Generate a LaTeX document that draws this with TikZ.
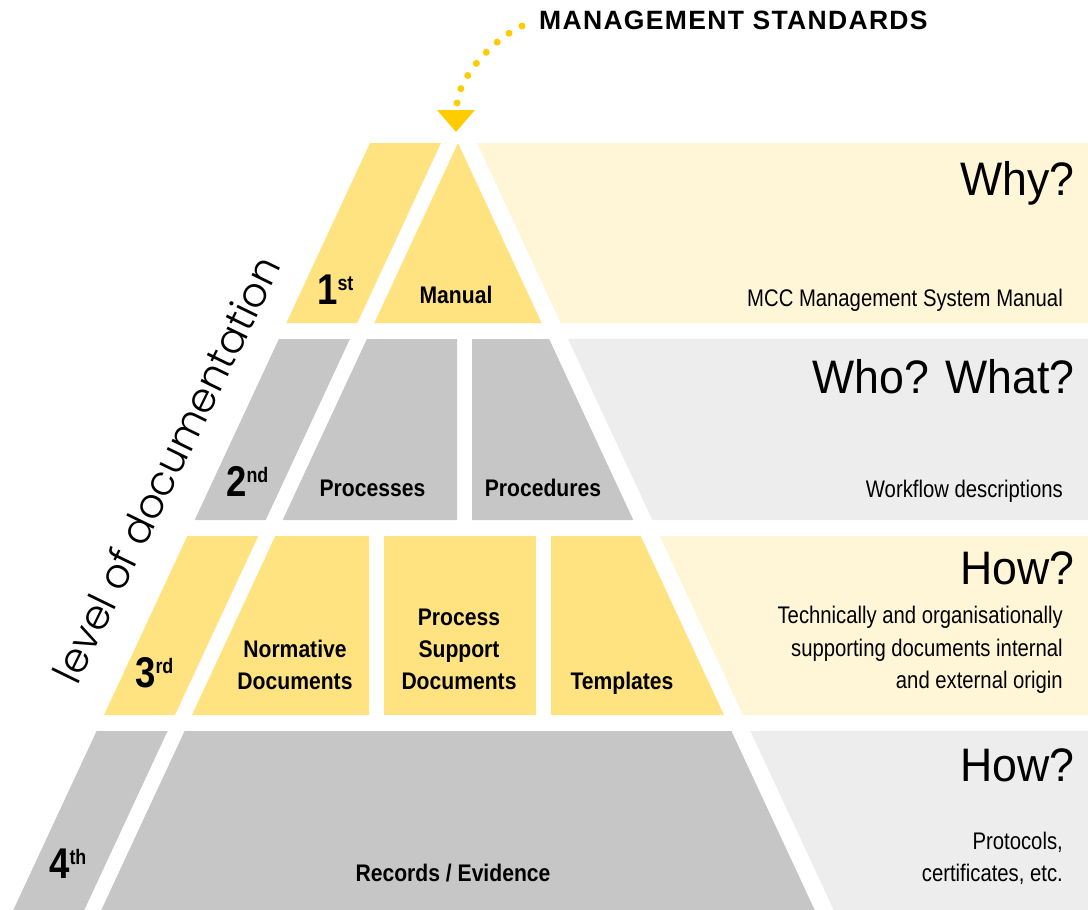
\documentclass[tikz,border=0pt]{standalone}
\usepackage{fontspec}
\usepackage{graphicx}
\usetikzlibrary{decorations.markings}
\setmainfont{Liberation Sans}
\newfontfamily\condlight[FakeStretch=0.845]{Liberation Sans}
\newfontfamily\bigqfont[FakeStretch=0.95]{Liberation Sans}
\newfontfamily\labfont[FakeStretch=0.88]{Liberation Sans}
\newfontfamily\ordfont[FakeStretch=0.85]{Liberation Sans}
\newfontfamily\msfont[LetterSpace=5]{Liberation Sans}
\newfontfamily\lvlfont{Poppins Light}
\definecolor{ymain}{HTML}{FFE380}
\definecolor{ylight}{HTML}{FFF6D8}
\definecolor{gmain}{HTML}{C6C6C6}
\definecolor{glight}{HTML}{EDEDED}
\definecolor{goldc}{HTML}{FFCC00}
\begin{document}
\begin{tikzpicture}[x=1pt,y=-1pt,
  ytier/.style={fill=ymain},
  yband/.style={fill=ylight},
  gtier/.style={fill=gmain},
  gband/.style={fill=glight},
  lab/.style={inner sep=0pt,anchor=base,font=\labfont\bfseries\fontsize{24}{24}\selectfont},
  ord/.style={inner sep=0pt,anchor=base west,font=\ordfont\bfseries\fontsize{43}{43}\selectfont},
  bigq/.style={inner sep=0pt,anchor=base east,font=\bigqfont\fontsize{47}{47}\selectfont},
  desc/.style={inner sep=0pt,anchor=base east,font=\condlight\fontsize{24}{24}\selectfont},
  dotline/.style={decoration={markings,
      mark=between positions 0 and 1 step 0.14285 with {\fill[goldc] (0,0) circle (3.5pt);}},
      decorate}
]
\useasboundingbox (0,0) rectangle (1088,910);
\newcommand{\sups}[1]{\raisebox{14pt}{\fontsize{21}{21}\selectfont #1}}
% ---- tier 1
\fill[ytier] (370,143) -- (441,143) -- (357.3,323) -- (286.3,323) -- cycle;
\fill[ytier] (458,143) -- (541.7,323) -- (374.3,323) -- cycle;
\fill[yband] (477,143) -- (1088,143) -- (1088,323) -- (560.7,323) -- cycle;
% ---- tier 2
\fill[gtier] (278.9,339) -- (349.9,339) -- (265.7,520) -- (194.7,520) -- cycle;
\fill[gtier] (366.9,339) -- (457,339) -- (457,520) -- (282.7,520) -- cycle;
\fill[gtier] (472,339) -- (549.1,339) -- (633.3,520) -- (472,520) -- cycle;
\fill[gband] (568.1,339) -- (1088,339) -- (1088,520) -- (652.3,520) -- cycle;
% ---- tier 3
\fill[ytier] (187.3,536) -- (258.3,536) -- (175,715) -- (104,715) -- cycle;
\fill[ytier] (275.3,536) -- (369,536) -- (369,715) -- (192,715) -- cycle;
\fill[ytier] (384,536) -- (536,536) -- (536,715) -- (384,715) -- cycle;
\fill[ytier] (551,536) -- (640.7,536) -- (724,715) -- (551,715) -- cycle;
\fill[yband] (659.7,536) -- (1088,536) -- (1088,715) -- (743,715) -- cycle;
% ---- tier 4
\fill[gtier] (96.6,731) -- (167.6,731) -- (84.3,910) -- (13.3,910) -- cycle;
\fill[gtier] (184.6,731) -- (731.4,731) -- (814.7,910) -- (101.3,910) -- cycle;
\fill[gband] (750.4,731) -- (1088,731) -- (1088,910) -- (833.7,910) -- cycle;
% ---- management standards + arrow
\node[inner sep=0pt,anchor=base west,font=\msfont\bfseries\fontsize{26.5}{26.5}\selectfont] (ms) at (539,30) {MANAGEMENT STANDARDS};
\coordinate (dotstart) at (522,26);
\coordinate (dotend) at (457,103);
\path[dotline] (dotstart) .. controls (495,38) and (460,75) .. (dotend);
\coordinate (tipL) at (437,110);
\coordinate (tipR) at (475,110);
\coordinate (tipB) at (456,132);
\fill[goldc] (tipL) -- (tipR) -- (tipB) -- cycle;
% ---- level text
\node[inner sep=0pt,rotate=64,font=\lvlfont] (lvl) at (166,469) {\resizebox{468pt}{!}{level of documentation}};
% ---- ordinals
\node[ord] (o1) at (317,304) {1\sups{st}};
\node[ord] (o2) at (226,496) {2\sups{nd}};
\node[ord] (o3) at (135,687) {3\sups{rd}};
\node[ord] (o4) at (49,878) {4\sups{th}};
% ---- labels
\node[lab] (manual) at (456,303) {Manual};
\node[lab] (processes) at (372.5,496) {Processes};
\node[lab] (procedures) at (543,496) {Procedures};
\node[lab] (norm1) at (295,657) {Normative};
\node[lab] (norm2) at (295,689) {Documents};
\node[lab] (psd1) at (459,625) {Process};
\node[lab] (psd2) at (459,657) {Support};
\node[lab] (psd3) at (459,689) {Documents};
\node[lab] (templates) at (622,689) {Templates};
\node[lab] (records) at (453,881) {Records / Evidence};
% ---- right side
\node[bigq] (why) at (1075,195) {Why?};
\node[desc] (mcc) at (1063,306) {MCC Management System Manual};
\node[bigq] (whowhat) at (1075,393) {Who? What?};
\node[desc] (workflow) at (1063,497) {Workflow descriptions};
\node[bigq] (how3) at (1075,584) {How?};
\node[desc] (tech1) at (1063,623) {Technically and organisationally};
\node[desc] (tech2) at (1063,656) {supporting documents internal};
\node[desc] (tech3) at (1063,688) {and external origin};
\node[bigq] (how4) at (1075,781) {How?};
\node[desc] (prot1) at (1063,849) {Protocols,};
\node[desc] (prot2) at (1063,881) {certificates, etc.};
\end{tikzpicture}
\end{document}
